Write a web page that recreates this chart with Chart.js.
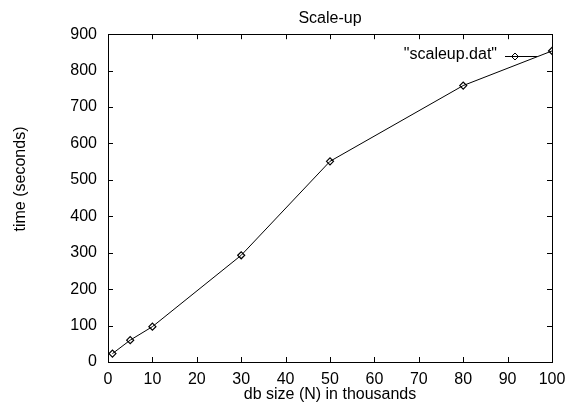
<!DOCTYPE html>
<html>
<head>
<meta charset="utf-8">
<script src="https://cdn.jsdelivr.net/npm/chart.js@4"></script>
<style>
  body { margin: 0; background: #fff; }
</style>
</head>
<body>
<canvas id="myChart" width="567" height="404"></canvas>
<script>
// db size (N, thousands) against run time (seconds)
const sizes = [1, 5, 10, 30, 50, 80, 100];
const times = [23, 60, 97, 293, 551, 759, 854];
const seriesLabel = '"scaleup.dat"';
const xTicks = [0, 10, 20, 30, 40, 50, 60, 70, 80, 90, 100];
const yTicks = [0, 100, 200, 300, 400, 500, 600, 700, 800, 900];

const FONT = 'Liberation Sans, Arial, Helvetica, sans-serif';

// gnuplot look: box border, inward ticks on all sides, key inside top right
const gnuplotFrame = {
  id: 'gnuplotFrame',
  afterDraw(chart) {
    const ctx = chart.ctx;
    const a = chart.chartArea;
    const xs = chart.scales.x;
    const ys = chart.scales.y;
    ctx.save();
    ctx.strokeStyle = '#000';
    ctx.lineWidth = 1;
    ctx.strokeRect(Math.round(a.left) + 0.5, Math.round(a.top) + 0.5,
      Math.round(a.right - a.left), Math.round(a.bottom - a.top));
    ctx.beginPath();
    xTicks.forEach(v => {
      const px = Math.round(xs.getPixelForValue(v)) + 0.5;
      ctx.moveTo(px, a.bottom); ctx.lineTo(px, a.bottom - 5);
      ctx.moveTo(px, a.top); ctx.lineTo(px, a.top + 5);
    });
    yTicks.forEach(v => {
      const py = Math.round(ys.getPixelForValue(v)) + 0.5;
      ctx.moveTo(a.left, py); ctx.lineTo(a.left + 5, py);
      ctx.moveTo(a.right, py); ctx.lineTo(a.right - 5, py);
    });
    ctx.stroke();

    // y axis title
    ctx.fillStyle = '#000';
    ctx.font = '16px ' + FONT;
    ctx.textAlign = 'center';
    ctx.textBaseline = 'middle';
    ctx.translate(21, 179);
    ctx.rotate(-Math.PI / 2);
    ctx.fillText('time (seconds)', 0, 0);
    ctx.restore();

    // key
    ctx.save();
    ctx.fillStyle = '#000';
    ctx.font = '16px ' + FONT;
    ctx.textAlign = 'right';
    ctx.textBaseline = 'middle';
    ctx.fillText(chart.data.datasets[0].label, 497, 55);
    ctx.strokeStyle = '#000';
    ctx.lineWidth = 1;
    ctx.beginPath();
    ctx.moveTo(505, 56.5); ctx.lineTo(537, 56.5);
    ctx.stroke();
    ctx.beginPath();
    ctx.moveTo(515, 53); ctx.lineTo(518.5, 56.5); ctx.lineTo(515, 60); ctx.lineTo(511.5, 56.5);
    ctx.closePath();
    ctx.stroke();
    ctx.restore();
  }
};

const ctx = document.getElementById('myChart').getContext('2d');
const myChart = new Chart(ctx, {
  type: 'scatter',
  data: {
    datasets: [
      {
        label: seriesLabel,
        data: sizes.map((s, i) => ({ x: s, y: times[i] })),
        showLine: true,
        borderColor: '#000',
        backgroundColor: 'rgba(0,0,0,0)',
        borderWidth: 1,
        pointStyle: 'rectRot',
        pointRadius: 3.5,
        pointBorderWidth: 1.2,
        pointBorderColor: '#000',
        pointBackgroundColor: 'rgba(0,0,0,0)'
      }
    ]
  },
  options: {
    responsive: false,
    animation: false,
    layout: { padding: { top: 0, right: 15, bottom: 0, left: 0 } },
    plugins: {
      legend: { display: false },
      tooltip: { enabled: false },
      title: {
        display: true,
        text: 'Scale-up',
        color: '#000',
        fullSize: false,
        font: { family: FONT, size: 16, weight: 'normal' },
        padding: { top: 9, bottom: 6 }
      }
    },
    scales: {
      x: {
        type: 'linear',
        min: 0,
        max: 100,
        afterBuildTicks: s => { s.ticks = xTicks.map(v => ({ value: v })); },
        afterFit: s => { s.height = 42; s.paddingLeft = 0; s.paddingRight = 0; },
        grid: { display: false, drawTicks: false },
        border: { display: false },
        ticks: { color: '#000', padding: 8, maxRotation: 0, font: { family: FONT, size: 16 } },
        title: {
          display: true,
          text: 'db size (N) in thousands',
          color: '#000',
          padding: { top: 0, bottom: 0 },
          font: { family: FONT, size: 16 }
        }
      },
      y: {
        type: 'linear',
        min: 0,
        max: 900,
        afterBuildTicks: s => { s.ticks = yTicks.map(v => ({ value: v })); },
        afterFit: s => { s.width = 108; s.paddingTop = 0; s.paddingBottom = 0; },
        grid: { display: false, drawTicks: false },
        border: { display: false },
        ticks: { color: '#000', padding: 11, font: { family: FONT, size: 16 } }
      }
    }
  },
  plugins: [gnuplotFrame]
});
</script>
</body>
</html>
